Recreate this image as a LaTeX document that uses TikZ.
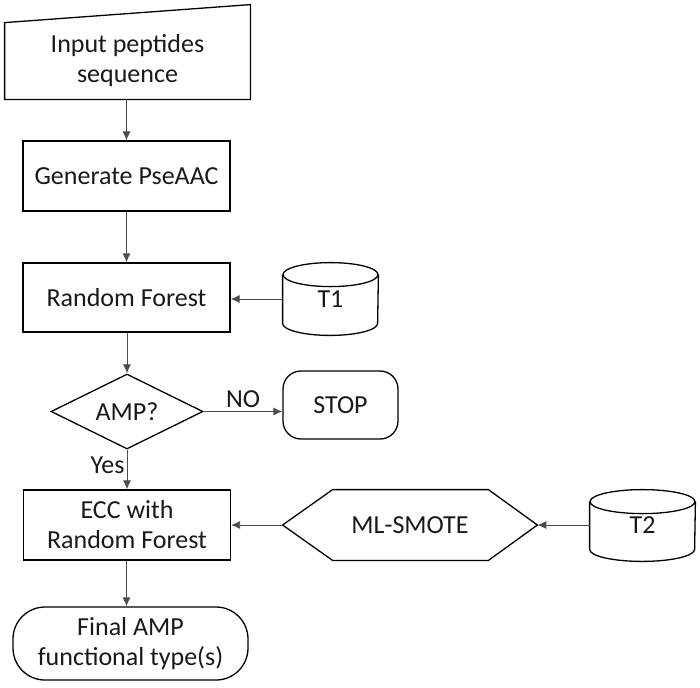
\documentclass[tikz,border=0pt]{standalone}
\usepackage{fontspec}
\setmainfont{Carlito}
\usetikzlibrary{arrows.meta,shapes.geometric,calc}
\begin{document}
\begin{tikzpicture}[x=0.5pt,y=-0.5pt,
  every node/.style={font=\fontsize{13}{15}\selectfont, text=black!90, align=center, inner sep=0pt},
  shp/.style={draw=black, line width=0.65pt},
  boxnode/.style={shp, rectangle, minimum width=103.5pt, minimum height=35pt},
  ghost/.style={draw=none, rectangle},
  arr/.style={draw=black!70, line width=0.45pt, -{Latex[length=4.5pt,width=4pt]}},
  lnk/.style={draw=black!70, line width=0.45pt},
  lbl/.style={font=\fontsize{13}{15}\selectfont}
]
\useasboundingbox (0,0) rectangle (700,687);

% input (manual input shape)
\node[ghost, minimum width=122.5pt, minimum height=38pt] (inp) at (127.5,61) {\raisebox{-1.5pt}{\begin{tabular}{@{}c@{}}Input peptides\\sequence\end{tabular}}};
\draw[shp] (inp.south west) -- (inp.south east) -- ([yshift=9pt]inp.north east) -- (inp.north west) -- cycle;

\node[boxnode] (gen) at (126.5,176) {Generate PseAAC};
\node[boxnode, minimum height=34.5pt] (rf) at (126.5,297.5) {Random Forest};

% T1 cylinder
\node[ghost, minimum width=47.5pt, minimum height=36pt] (t1) at (330.5,299) {\raisebox{-2.3pt}{T1}};
\draw[shp] ([yshift=-6pt]t1.north west) -- ([yshift=6pt]t1.south west)
  arc[start angle=180,end angle=360,x radius=23.75pt,y radius=6pt]
  -- ([yshift=-6pt]t1.north east);
\draw[shp] ([yshift=-6pt]t1.north) ellipse[x radius=23.75pt,y radius=6pt];

\node[shp, diamond, aspect=2, minimum width=76pt, minimum height=37.5pt] (amp) at (127,411.5) {AMP?};
\node[shp, rectangle, rounded corners=9pt, minimum width=57.5pt, minimum height=34pt] (stop) at (340.5,405) {\raisebox{-1pt}{STOP}};

\node[boxnode] (ecc) at (127,525) {ECC with\\Random Forest};

% ML-SMOTE hexagon
\node[ghost, minimum width=127pt, minimum height=35pt] (mls) at (410,525) {ML-SMOTE};
\draw[shp] (mls.west) -- ([xshift=25pt]mls.north west) -- ([xshift=-24.5pt]mls.north east)
  -- (mls.east) -- ([xshift=-24.5pt]mls.south east) -- ([xshift=25pt]mls.south west) -- cycle;

% T2 cylinder
\node[ghost, minimum width=52.5pt, minimum height=35.5pt] (t2) at (642.5,525.5) {\raisebox{-3.2pt}{T2}};
\draw[shp] ([yshift=-6pt]t2.north west) -- ([yshift=6pt]t2.south west)
  arc[start angle=180,end angle=360,x radius=26.25pt,y radius=6pt]
  -- ([yshift=-6pt]t2.north east);
\draw[shp] ([yshift=-6pt]t2.north) ellipse[x radius=26.25pt,y radius=6pt];

\node[shp, rectangle, rounded corners=16pt, minimum width=117.5pt, minimum height=36.5pt] (fin) at (130.5,643.5) {Final AMP\\functional type(s)};

% connectors
\draw[arr] (inp.south -| gen.north) -- (gen.north);
\draw[arr] (gen.south) -- (rf.north);
\draw[arr] (t1.west) -- (t1.west -| rf.east);
\draw[arr] (rf.south -| amp.north) -- (amp.north);
\draw[arr] (amp.east) -- node[lbl, above, yshift=1.5pt]{NO} (amp.east -| stop.west);
\draw[arr] (amp.south) -- node[lbl, left, pos=0.4, xshift=-1pt]{Yes} (ecc.north);
\draw[arr] (t2.west |- mls.east) -- (mls.east);
\draw[arr] (mls.west) -- (ecc.east);
\draw[arr] (ecc.south -| gen.south) -- (gen.south |- fin.north);
\end{tikzpicture}
\end{document}
